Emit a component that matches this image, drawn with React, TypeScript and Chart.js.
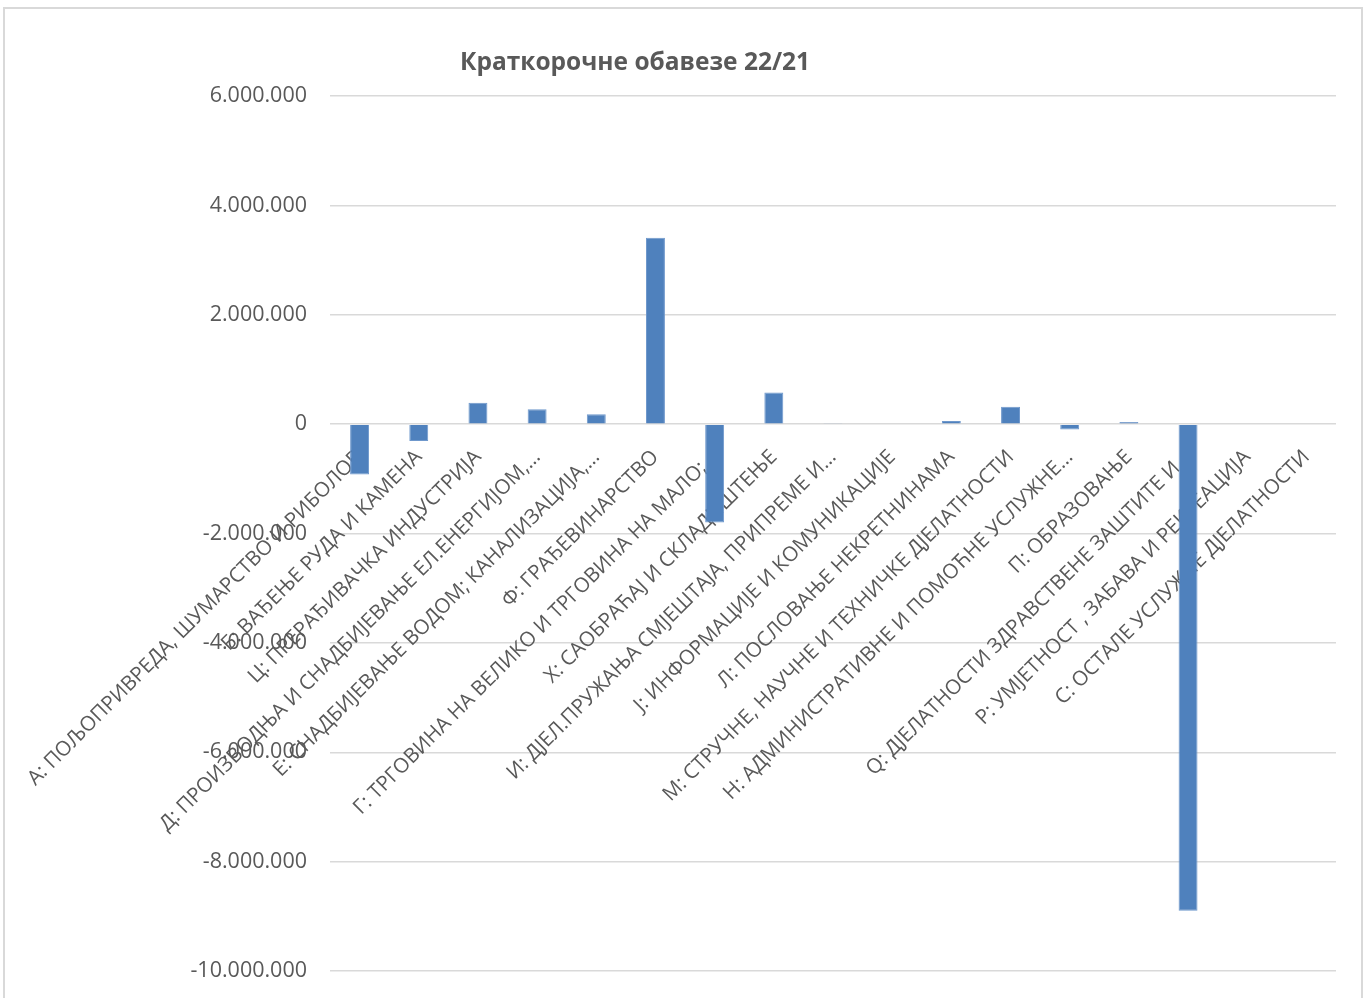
import React, { useEffect, useRef } from "react";
import { Chart, registerables } from "chart.js";

Chart.register(...registerables);

const titleText = "Краткорочне обавезе 22/21";

const categories: string[] = [
  "А: ПОЉОПРИВРЕДА, ШУМАРСТВО И РИБОЛОВ",
  "Б: ВАЂЕЊЕ РУДА И КАМЕНА",
  "Ц: ПРЕРАЂИВАЧКА ИНДУСТРИЈА",
  "Д: ПРОИЗВОДЊА И СНАДБИЈЕВАЊЕ ЕЛ.ЕНЕРГИЈОМ,…",
  "Е: СНАДБИЈЕВАЊЕ ВОДОМ; КАНАЛИЗАЦИЈА,…",
  "Ф: ГРАЂЕВИНАРСТВО",
  "Г: ТРГОВИНА НА ВЕЛИКО И ТРГОВИНА НА МАЛО;…",
  "Х: САОБРАЋАЈ И СКЛАДИШТЕЊЕ",
  "И: ДЈЕЛ.ПРУЖАЊА СМЈЕШТАЈА, ПРИПРЕМЕ И…",
  "Ј: ИНФОРМАЦИЈЕ И КОМУНИКАЦИЈЕ",
  "Л: ПОСЛОВАЊЕ НЕКРЕТНИНАМА",
  "М: СТРУЧНЕ, НАУЧНЕ И ТЕХНИЧКЕ ДЈЕЛАТНОСТИ",
  "Н: АДМИНИСТРАТИВНЕ И ПОМОЋНЕ УСЛУЖНЕ…",
  "П: ОБРАЗОВАЊЕ",
  "Q: ДЈЕЛАТНОСТИ ЗДРАВСТВЕНЕ ЗАШТИТЕ И…",
  "Р: УМЈЕТНОСТ , ЗАБАВА И РЕКРЕАЦИЈА",
  "С: ОСТАЛЕ УСЛУЖНЕ ДЈЕЛАТНОСТИ",
];

const values: number[] = [
  -920000, -310000, 390000, 270000, 180000, 3410000, -1800000, 580000,
  15000, 12000, 55000, 320000, -100000, 40000, -8900000, 0, 0,
];

const yMin = -10000000;
const yMax = 6000000;
const yStep = 2000000;

const fmt = (v: number) => {
  const s = Math.abs(v).toString().replace(/\B(?=(\d{3})+(?!\d))/g, ".");
  return (v < 0 ? "-" : "") + s;
};

const titlePlugin = {
  id: "excelTitle",
  afterDraw(chart: any) {
    const ctx = chart.ctx;
    ctx.save();
    ctx.font = "bold 24.5px 'Open Sans'";
    ctx.fillStyle = "#595959";
    ctx.textAlign = "center";
    ctx.textBaseline = "middle";
    ctx.fillText(titleText, chart.width * 0.4635, 63);
    ctx.restore();
  },
};

const zeroPad = (s: any) => {
  s.paddingLeft = 0;
  s.paddingRight = 0;
  s.paddingTop = 0;
  s.paddingBottom = 0;
};

export default function App() {
  const ref = useRef<HTMLCanvasElement>(null);
  useEffect(() => {
    if (!ref.current) return;
    const chart = new Chart(ref.current, {
      type: "bar",
      data: {
        labels: categories,
        datasets: [
          {
            data: values,
            backgroundColor: "#4f81bd",
            borderColor: "#6f98cc",
            borderWidth: 1,
            barPercentage: 0.32,
            categoryPercentage: 1,
          },
        ],
      },
      options: {
        animation: false,
        responsive: false,
        maintainAspectRatio: false,
        layout: { padding: { top: 96, right: 34, bottom: 27, left: 0 } },
        plugins: {
          legend: { display: false },
          title: { display: false },
          tooltip: { enabled: false },
        },
        scales: {
          x: {
            position: { y: 0 } as any,
            afterFit: zeroPad,
            grid: { display: false },
            border: { display: false },
            ticks: {
              autoSkip: false,
              maxRotation: 45,
              minRotation: 45,
              padding: 13,
              color: "#595959",
              font: { family: "'Open Sans'", size: 20.5 },
            },
          },
          y: {
            min: yMin,
            max: yMax,
            afterFit: (s: any) => {
              s.width = 330;
              zeroPad(s);
            },
            grid: { color: "#d9d9d9", lineWidth: 1.5, drawTicks: false },
            border: { display: false },
            ticks: {
              stepSize: yStep,
              padding: 23,
              color: "#595959",
              font: { family: "'Open Sans'", size: 21.5 },
              callback: (v: any) => fmt(Number(v)),
            },
          },
        },
      },
      plugins: [titlePlugin],
    });
    return () => chart.destroy();
  }, []);

  return (
    <div
      style={{
        position: "fixed",
        left: 0,
        top: 0,
        width: 1370,
        height: 998,
        overflow: "hidden",
        background: "#fff",
      }}
    >
      <div
        style={{
          position: "absolute",
          left: 3,
          top: 7,
          width: 1360,
          height: 1100,
          border: "2px solid #d9d9d9",
          boxSizing: "border-box",
        }}
      />
      <canvas
        ref={ref}
        width={1370}
        height={998}
        style={{ position: "absolute", left: 0, top: 0 }}
      />
    </div>
  );
}
